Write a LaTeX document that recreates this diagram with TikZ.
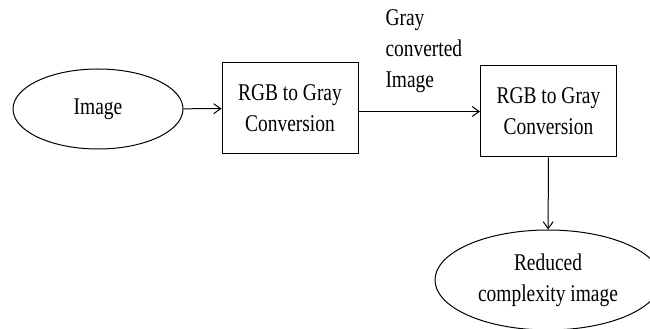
\documentclass[tikz,border=0pt]{standalone}
\usepackage{fontspec}
\setmainfont{Liberation Serif}[FakeStretch=0.81]
\usetikzlibrary{arrows, arrows.meta, shapes.geometric, positioning}
\tikzset{>={Straight Barb[length=7pt,width=10pt]}}

\begin{document}
\begin{tikzpicture}[x=1pt, y=1pt, line width=1pt,
  oval/.style={draw, ellipse, align=center, inner sep=0pt},
  procbox/.style={draw, rectangle, align=center, minimum width=136pt, minimum height=91pt, inner sep=0pt},
  every node/.style={font=\fontsize{24}{31}\selectfont}]
\useasboundingbox (0,0) rectangle (650,329);

\node[oval, minimum width=170pt, minimum height=80pt](img) at (98,220){Image};
\node[procbox](conv1) at (290,220.5){RGB to Gray\\Conversion};
\node[procbox](conv2) at (548.5,217.5){RGB to Gray\\Conversion};
\node[oval, minimum width=226pt, minimum height=100pt](reduced) at (548,49){Reduced\\complexity image};
\node[align=left, anchor=north west, inner sep=0pt](graylbl) at (385,320){Gray\\converted\\Image};

\draw[->](img)--(conv1);
\draw[->](conv1.east |- conv2)--(conv2.west);
\draw[->](conv2)--(reduced);

\end{tikzpicture}
\end{document}
